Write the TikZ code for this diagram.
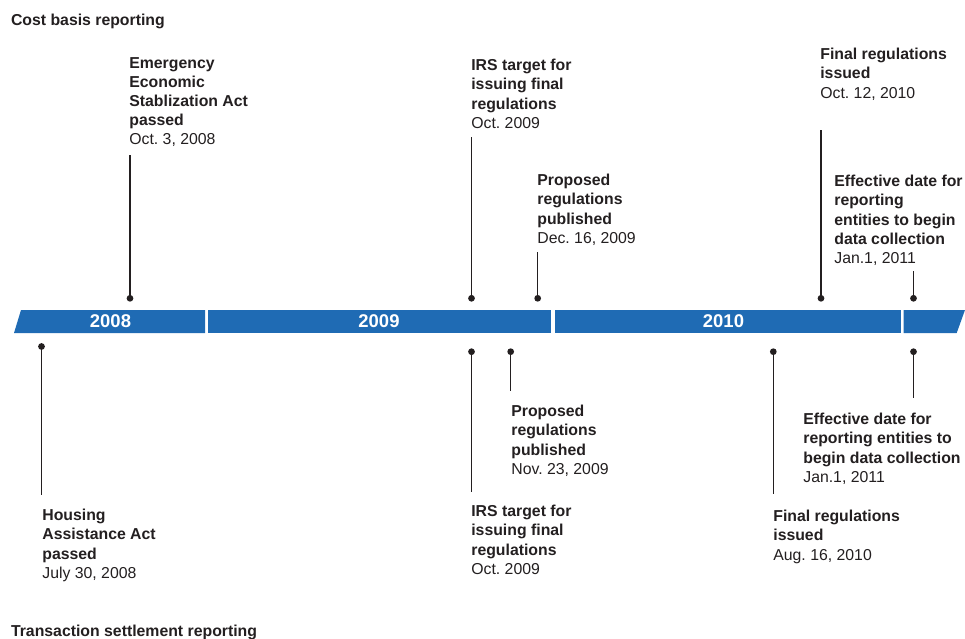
\documentclass[tikz,border=0pt]{standalone}
\usepackage{fontspec}
\setmainfont{Liberation Sans}
\frenchspacing
\definecolor{bar blue}{RGB}{31,107,180}
\definecolor{ink}{RGB}{35,31,32}

\tikzset{%
		every event/.style={
			anchor=north west,
			inner sep=0pt,
			align=left,
			font=\fontsize{9}{10.9}\selectfont\bfseries,
			text=ink
		},
		event dot/.style={
			circle,
			fill=ink,
			inner sep=0pt,
			minimum size=0.135cm
		},
		event line/.style={
			draw=ink,
			line width=0.6pt
		},
		year/.style={
			font=\fontsize{10.5}{12}\selectfont\bfseries,
			text=white
		},
	}

\begin{document}
\begin{tikzpicture}[x=0.02cm, y=-0.02cm]
			\useasboundingbox (0,0) rectangle (965,639);
			
			% draw the year bar
			\fill [bar blue] (14,333) -- (21,310) -- (205,310) -- (205,333) -- cycle;
			\fill [bar blue] (208.3,310) rectangle (551,333);
			\fill [bar blue] (555.3,310) rectangle (901,333);
			\fill [bar blue] (903.7,310) -- (965,310) -- (956.7,333) -- (903.7,333) -- cycle;
			
			% Annotate years
			\foreach \l/\x in {2008/110.5, 2009/379, 2010/723.5}
			\node [year] (year-\l) at (\x,321.5) {\l};
			
			% draw dots above the bar, with the free end of each line
			\foreach \x/\e [count=\i] in {130/155, 471.5/137, 537.7/252, 821/130, 913.5/271}
			{
			\node [event dot] (top-\i) at (\x,298.3) {};
			\coordinate (top-\i-end) at (\x,\e);
			}
			
			% draw dots below the bar, with the free end of each line
			\foreach \x/\y/\e [count=\i] in {41.5/346.5/495, 471.5/351.7/492, 510.7/351.7/391, 773.3/351.7/494, 913.5/351.7/398}
			{
			\node [event dot] (bottom-\i) at (\x,\y) {};
			\coordinate (bottom-\i-end) at (\x,\e);
			}
			
			% Draw lines from the dots
			\foreach \i in {1,...,5}
			\draw [event line] (top-\i) -- (top-\i-end);
			\foreach \i in {1,...,5}
			\draw [event line] (bottom-\i) -- (bottom-\i-end);
			
			% Annotate events above the bar
			\node [every event] (top-1-text) at (129,57) {Emergency\\Economic\\Stablization Act\\passed\\\mdseries Oct. 3, 2008};
			\node [every event] (top-2-text) at (471,59) {IRS target for\\issuing final\\regulations\\\mdseries Oct. 2009};
			\node [every event] (top-3-text) at (537,174) {Proposed\\regulations\\published\\\mdseries Dec. 16, 2009};
			\node [every event] (top-4-text) at (820,48) {Final regulations\\issued\\\mdseries Oct. 12, 2010};
			\node [every event] (top-5-text) at (834,175) {Effective date for\\reporting\\entities to begin\\data collection\\\mdseries Jan.1, 2011};
			
			% Annotate events below the bar
			\node [every event] (bottom-1-text) at (42,509) {Housing\\Assistance Act\\passed\\\mdseries July 30, 2008};
			\node [every event] (bottom-2-text) at (471,505) {IRS target for\\issuing final\\regulations\\\mdseries Oct. 2009};
			\node [every event] (bottom-3-text) at (511,405) {Proposed\\regulations\\published\\\mdseries Nov. 23, 2009};
			\node [every event] (bottom-4-text) at (773,510) {Final regulations\\issued\\\mdseries Aug. 16, 2010};
			\node [every event] (bottom-5-text) at (803,413) {Effective date for\\reporting entities to\\begin data collection\\\mdseries Jan.1, 2011};
			
			% Annotate the two halves
			\node [every event] (cost-title) at (10.7,14) {Cost basis reporting};
			\node [every event] (trade-title) at (10.7,625) {Transaction settlement reporting};
\end{tikzpicture}
\end{document}
